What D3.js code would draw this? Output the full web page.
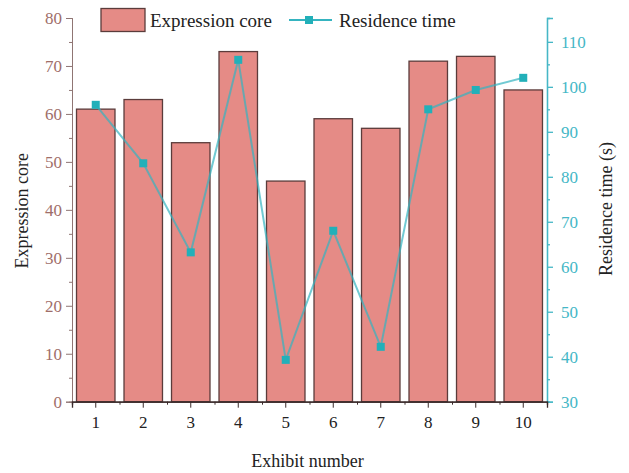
<!DOCTYPE html>
<html><head><meta charset="utf-8">
<script src="https://cdn.jsdelivr.net/npm/d3@7"></script>
<style>body{margin:0;background:#fff}svg{display:block}svg text{font-family:'Liberation Serif','DejaVu Serif',serif}</style>
</head><body>
<script>
const exhibits = ["1","2","3","4","5","6","7","8","9","10"];
const expressionScore = [61, 63, 54, 73, 46, 59, 57, 71, 72, 65];
const residenceTime = [96, 83, 63.2, 106, 39.3, 68, 42.2, 95, 99.3, 102];
const leftTicks = [0,10,20,30,40,50,60,70,80];
const rightTicks = [30,40,50,60,70,80,90,100,110];

(function(){
const W = 629, H = 473;
const pL = 72, pR = 547, pT = 18, pB = 401.7;
const font = "'Liberation Serif', 'DejaVu Serif', serif";
const leftColor = "#a06e69", rightColor = "#45b7c6";

const svg = d3.select("body").append("svg").attr("width", W).attr("height", H);

const x = d3.scaleBand().domain(exhibits).range([pL, pR]).paddingInner(0.19).paddingOuter(0.095);
const xc = d3.scaleBand().domain(exhibits).range([pL, pR]);
const yL = d3.scaleLinear().domain([0, 80]).range([pB, pT]);
const yR = d3.scaleLinear().domain([30, 115.3]).range([pB, pT]);

// bars
svg.append("g").selectAll("rect").data(exhibits).join("rect")
  .attr("x", d => x(d)).attr("width", x.bandwidth())
  .attr("y", (d,i) => yL(expressionScore[i]))
  .attr("height", (d,i) => pB - yL(expressionScore[i]))
  .attr("fill", "#e58b86").attr("stroke", "#5b3c3b").attr("stroke-width", 1.3);

// line
const line = d3.line().x((d,i) => xc(exhibits[i]) + xc.bandwidth()/2).y(d => yR(d));
svg.append("path").datum(residenceTime).attr("d", line)
  .attr("fill", "none").attr("stroke", "#35b4c0").attr("stroke-width", 2).attr("stroke-opacity", 0.7);
svg.append("g").selectAll("rect").data(residenceTime).join("rect")
  .attr("x", (d,i) => xc(exhibits[i]) + xc.bandwidth()/2 - 4)
  .attr("y", d => yR(d) - 4).attr("width", 8).attr("height", 8)
  .attr("fill", "#22b0b9");

// left axis
const gL = svg.append("g").attr("transform", `translate(${pL},0)`);
gL.call(d3.axisLeft(yL).tickValues(d3.range(5, 80, 10)).tickSize(3).tickFormat(""));
gL.call(g => g.append("g").call(d3.axisLeft(yL).tickValues(leftTicks).tickSize(6).tickPadding(4).tickFormat(d3.format("d"))));
gL.selectAll("path,line").attr("stroke", "#8f7573");
gL.selectAll("text").attr("fill", leftColor).attr("font-family", font).attr("font-size", 17);

// right axis
const gR = svg.append("g").attr("transform", `translate(${pR},0)`);
gR.call(d3.axisRight(yR).tickValues(d3.range(35, 115, 10)).tickSize(3).tickFormat(""));
gR.call(g => g.append("g").call(d3.axisRight(yR).tickValues(rightTicks).tickSize(6).tickPadding(8).tickFormat(d3.format("d"))));
gR.selectAll("path,line").attr("stroke", rightColor).attr("stroke-width", 1.3);
gR.selectAll("text").attr("fill", rightColor).attr("font-family", font).attr("font-size", 17);

// x axis
const gX = svg.append("g").attr("transform", `translate(0,${pB})`);
gX.call(d3.axisBottom(d3.scaleLinear().domain([0, 10]).range([pL, pR])).tickValues(d3.range(1, 10)).tickSize(3).tickFormat(""));
gX.call(g => g.append("g").call(d3.axisBottom(xc).tickSize(6).tickPadding(8)));
gX.selectAll("path").attr("stroke", "#3a2a2a").attr("stroke-width", 1.3);
gX.selectAll("line").attr("stroke", "#3a2a2a");
gX.selectAll("text").attr("fill", "#222").attr("font-family", font).attr("font-size", 17);

// titles
svg.append("text").attr("transform", `translate(28,${(pT+pB)/2 + 1}) rotate(-90)`)
  .attr("text-anchor", "middle").attr("font-family", font).attr("font-size", 18).attr("fill", "#222")
  .text("Expression core");
svg.append("text").attr("transform", `translate(612,209) rotate(-90)`)
  .attr("text-anchor", "middle").attr("font-family", font).attr("font-size", 18).attr("fill", "#222")
  .text("Residence time (s)");
svg.append("text").attr("x", (pL+pR)/2 - 2).attr("y", 467)
  .attr("text-anchor", "middle").attr("font-family", font).attr("font-size", 18).attr("fill", "#222")
  .text("Exhibit number");

// legend
const lg = svg.append("g");
lg.append("rect").attr("x", 101).attr("y", 8.5).attr("width", 44).attr("height", 23)
  .attr("fill", "#e58b86").attr("stroke", "#5b3c3b").attr("stroke-width", 1.3);
lg.append("text").attr("x", 150).attr("y", 27).attr("font-family", font).attr("font-size", 19).attr("fill", "#222")
  .text("Expression core");
lg.append("line").attr("x1", 289).attr("x2", 332).attr("y1", 20).attr("y2", 20)
  .attr("stroke", "#35b4c0").attr("stroke-width", 2);
lg.append("rect").attr("x", 305).attr("y", 16).attr("width", 8).attr("height", 8).attr("fill", "#22b0b9");
lg.append("text").attr("x", 339).attr("y", 27).attr("font-family", font).attr("font-size", 19).attr("fill", "#222")
  .text("Residence time");
})();
</script>
</body></html>
